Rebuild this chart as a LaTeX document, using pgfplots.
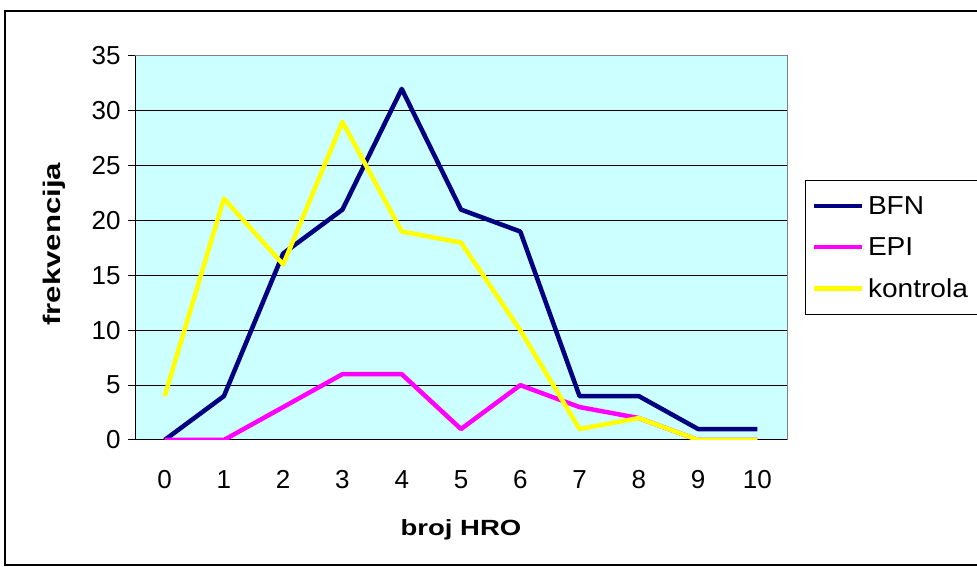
\documentclass[border=0pt]{standalone}
\usepackage{fontspec}
\setmainfont{Liberation Sans}
\usepackage{graphicx}
\usepackage{pgfplots}
\pgfplotsset{compat=1.18}
\definecolor{bfn}{RGB}{0,0,128}
\definecolor{epi}{RGB}{255,0,255}
\definecolor{kon}{RGB}{255,255,0}
\definecolor{bgc}{RGB}{204,255,255}
\begin{document}
\begin{tikzpicture}[x=1pt,y=1pt]
\useasboundingbox (0,0) rectangle (977,567);
\draw[line width=1.5pt] (5,2) rectangle (995,556);
\begin{axis}[
 name=ax,
 at={(135pt,127pt)}, anchor=south west, scale only axis,
 width=652pt, height=384pt,
 xmin=0, xmax=11, ymin=0, ymax=35,
 font=\fontsize{26}{30}\selectfont,
 /pgf/number format/assume math mode=true,
 axis background/.style={fill=bgc},
 axis x line*=bottom, axis y line*=left,
 axis line style={black, line width=1pt, -},
 xtick={0.5,1.5,2.5,3.5,4.5,5.5,6.5,7.5,8.5,9.5,10.5},
 xticklabels={0,1,2,3,4,5,6,7,8,9,10},
 minor xtick={0,1,2,3,4,5,6,7,8,9,10,11},
 xtick style={draw=none},
 minor x tick style={black, line width=1pt},
 ytick={0,5,10,15,20,25,30}, extra y ticks={35}, extra y tick style={grid=none},
 ytick style={black, line width=1pt},
 tick align=outside, major tick length=7pt, minor tick length=7pt,
 ymajorgrids, grid style={black, line width=1pt},
 xticklabel style={yshift=-20pt},
 yticklabel style={xshift=-4pt},
 xlabel={\fontsize{22}{26}\selectfont\bfseries\scalebox{1.25}[1]{broj HRO}},
 ylabel={\fontsize{24}{28}\selectfont\bfseries\scalebox{1.3}[1]{frekvencija}},
 xlabel style={at={(axis description cs:0.5,-0.233)}, anchor=center},
 ylabel style={at={(axis description cs:-0.1235,0.51)}, anchor=center},
 legend style={at={(1.0276,0.677)}, anchor=north west, draw=black, line width=1pt,
   fill=white, inner xsep=6pt, inner ysep=12pt, row sep=13.5pt,
   nodes={inner sep=4pt}, font=\fontsize{26}{30}\selectfont},
 legend cell align=left,
 legend image code/.code={\draw[#1] (0pt,0pt) -- (48pt,0pt);},
]
\addplot[bfn, line width=4.5pt, line join=round] coordinates {
(0.5,0) (1.5,4) (2.5,17) (3.5,21) (4.5,32) (5.5,21) (6.5,19) (7.5,4) (8.5,4) (9.5,1) (10.5,1)};
\addlegendentry{\scalebox{1.08}[1]{BFN}}
\addplot[epi, line width=4.5pt, line join=round] coordinates {
(0.5,0) (1.5,0) (2.5,3) (3.5,6) (4.5,6) (5.5,1) (6.5,5) (7.5,3) (8.5,2) (9.5,0) (10.5,0)};
\addlegendentry{\scalebox{1.08}[1]{EPI}}
\addplot[kon, line width=4.5pt, line join=round] coordinates {
(0.5,4) (1.5,22) (2.5,16) (3.5,29) (4.5,19) (5.5,18) (6.5,10) (7.5,1) (8.5,2) (9.5,0) (10.5,0)};
\addlegendentry{\scalebox{1.08}[1]{kontrola}}
\end{axis}
\draw[gray, line width=1pt] (ax.north west) -- (ax.north east) -- (ax.south east);
\end{tikzpicture}
\end{document}
